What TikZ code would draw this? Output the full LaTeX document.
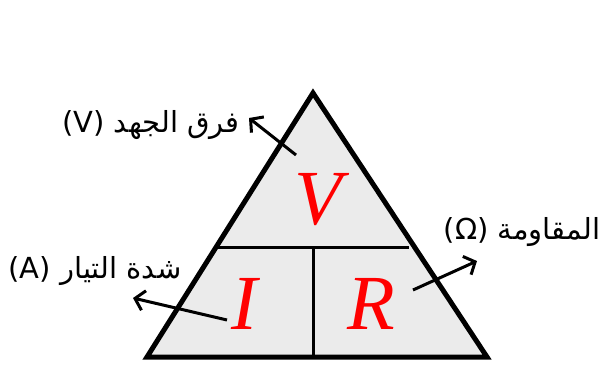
\documentclass[tikz,border=0pt]{standalone}
\usepackage{fontspec}
\setmainfont{DejaVu Sans}
\newfontfamily\arabicfont[Script=Arabic]{DejaVu Sans}
\newfontfamily\letterfont{Liberation Serif}
\TeXXeTstate=1
\usetikzlibrary{arrows.meta}
\definecolor{panel}{HTML}{EBEBEB}
\tikzset{
  qty/.style={text=red,font=\letterfont\fontsize{78}{90}\selectfont\itshape,inner sep=0pt},
  unitlabel/.style={font=\fontsize{29}{34}\selectfont,inner sep=0pt},
  pointer/.style={line width=3pt,-{Straight Barb[length=9pt,width=20pt,line width=3pt]}}
}

\begin{document}
\begin{tikzpicture}[x=1pt,y=-1pt]
        \useasboundingbox (0,0) rectangle (605,367);
        % triangle and its cells
        \draw[line width=5pt,line join=miter,fill=panel] (313,93) -- (487,357) -- (147,357) -- cycle;
        \draw[line width=3pt] (218,247) -- (409,247);
        \draw[line width=3pt] (313,247) -- (313,357);
        \node[qty] (volt) at (318,200) {V};
        \node[qty] (amp) at (244,304) {I};
        \node[qty] (ohm) at (371,304) {R};
        % labels
        \node[unitlabel] (voltlbl) at (151,125) {(V) {\arabicfont\beginR فرق الجهد\endR}};
        \node[unitlabel] (ohmlbl) at (522,232) {(Ω) {\arabicfont\beginR المقاومة\endR}};
        \node[unitlabel] (amplbl) at (95,271) {(A) {\arabicfont\beginR شدة التيار\endR}};
        \coordinate (vtail) at (296,155);
        \coordinate (vhead) at (249,118);
        \coordinate (rtail) at (413,290);
        \coordinate (rhead) at (477,261);
        \coordinate (itail) at (227,320);
        \coordinate (ihead) at (133,298);
        \draw[pointer] (vtail) -- (vhead);
        \draw[pointer] (rtail) -- (rhead);
        \draw[pointer] (itail) -- (ihead);
      \end{tikzpicture}
\end{document}
